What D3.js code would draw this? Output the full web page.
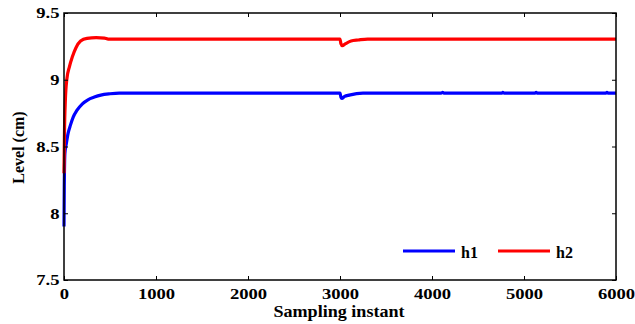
<!DOCTYPE html>
<html><head><meta charset="utf-8">
<script src="https://cdn.jsdelivr.net/npm/d3@7"></script>
<style>body{margin:0;background:#fff}svg{display:block}</style>
</head><body>
<svg id="c" width="635" height="324"></svg>
<script>
// Data
const h1Samples = [0, 3, 10, 25, 45, 70, 100, 140, 200, 260, 330, 400, 500, 600, 3000, 3010, 3020, 3050, 3100, 3250, 4100, 4116, 4135, 4760, 4770, 4785, 5120, 5132, 5150, 5890, 5902, 5920, 6000];
const h1Values  = [7.9, 8.2, 8.45, 8.52, 8.6, 8.66, 8.72, 8.77, 8.82, 8.85, 8.87, 8.885, 8.895, 8.9, 8.9, 8.87, 8.86, 8.875, 8.885, 8.9, 8.9, 8.905, 8.9, 8.9, 8.905, 8.9, 8.9, 8.905, 8.9, 8.9, 8.905, 8.9, 8.9];
const h2Samples = [0, 5, 15, 30, 60, 90, 130, 180, 250, 350, 440, 480, 3000, 3010, 3025, 3060, 3120, 3200, 3300, 6000];
const h2Values  = [8.3, 8.6, 8.85, 9.0, 9.1, 9.17, 9.24, 9.29, 9.31, 9.315, 9.312, 9.305, 9.305, 9.27, 9.255, 9.27, 9.29, 9.298, 9.305, 9.305];
const xTicks = [0, 1000, 2000, 3000, 4000, 5000, 6000];
const yTicks = [7.5, 8, 8.5, 9, 9.5];
const seriesNames = ["h1", "h2"];
const seriesColors = ["#0000ff", "#ff0000"];

const svg = d3.select("#c");
const L = 64, R = 616, T = 13, B = 280;
const x = d3.scaleLinear().domain([0, 6000]).range([L, R]);
const y = d3.scaleLinear().domain([7.5, 9.5]).range([B, T]);
const FONT = '"Liberation Serif"';
function styleText(sel, size) {
  sel.style("font-family", FONT).style("font-weight", "bold").style("font-size", size + "px").style("fill", "#000");
}

const series = [
  h1Samples.map((s, i) => [s, h1Values[i]]),
  h2Samples.map((s, i) => [s, h2Values[i]])
];

const line = d3.line().x(d => x(d[0])).y(d => y(d[1])).curve(d3.curveMonotoneX);
series.forEach((d, i) => {
  svg.append("path").attr("d", line(d)).attr("fill", "none")
    .attr("stroke", seriesColors[i]).attr("stroke-width", 3.2).attr("stroke-linejoin", "round");
});

// Axes
const ax = svg.append("g").attr("transform", `translate(0,${B})`)
  .call(d3.axisBottom(x).tickValues(xTicks).tickFormat(d3.format("d")).tickSizeInner(-4).tickSizeOuter(0).tickPadding(8));
const axT = svg.append("g").attr("transform", `translate(0,${T})`)
  .call(d3.axisTop(x).tickValues(xTicks).tickFormat("").tickSizeInner(-4).tickSizeOuter(0));
const ay = svg.append("g").attr("transform", `translate(${L},0)`)
  .call(d3.axisLeft(y).tickValues(yTicks).tickFormat(d => d3.format("")(d)).tickSizeInner(-4).tickSizeOuter(0).tickPadding(3.8));
const ayR = svg.append("g").attr("transform", `translate(${R},0)`)
  .call(d3.axisRight(y).tickValues(yTicks).tickFormat("").tickSizeInner(-4).tickSizeOuter(0));
[ax, axT, ay, ayR].forEach(g => {
  g.selectAll(".domain").remove();
  g.selectAll("line").attr("stroke", "#000");
  styleText(g.selectAll("text"), 15.5);
  g.selectAll("text").attr("transform", "scale(1.2,1)");
});

svg.append("rect").attr("x", L).attr("y", T).attr("width", R - L).attr("height", B - T)
  .attr("fill", "none").attr("stroke", "#000").attr("stroke-width", 1.5);

// Labels
styleText(svg.append("text").attr("transform", "translate(339,317) scale(1.065,1)").attr("text-anchor", "middle")
  .text("Sampling instant"), 17);
styleText(svg.append("text").attr("transform", `translate(23.5,147.5) rotate(-90)`).attr("text-anchor", "middle")
  .text("Level (cm)"), 16);

// Legend
const legX = [403, 498];
seriesNames.forEach((n, i) => {
  svg.append("line").attr("x1", legX[i]).attr("x2", legX[i] + 52).attr("y1", 251).attr("y2", 251)
    .attr("stroke", seriesColors[i]).attr("stroke-width", 3.2);
  styleText(svg.append("text").attr("x", legX[i] + 58).attr("y", 257.5).text(n), 16);
});
</script>
</body></html>
